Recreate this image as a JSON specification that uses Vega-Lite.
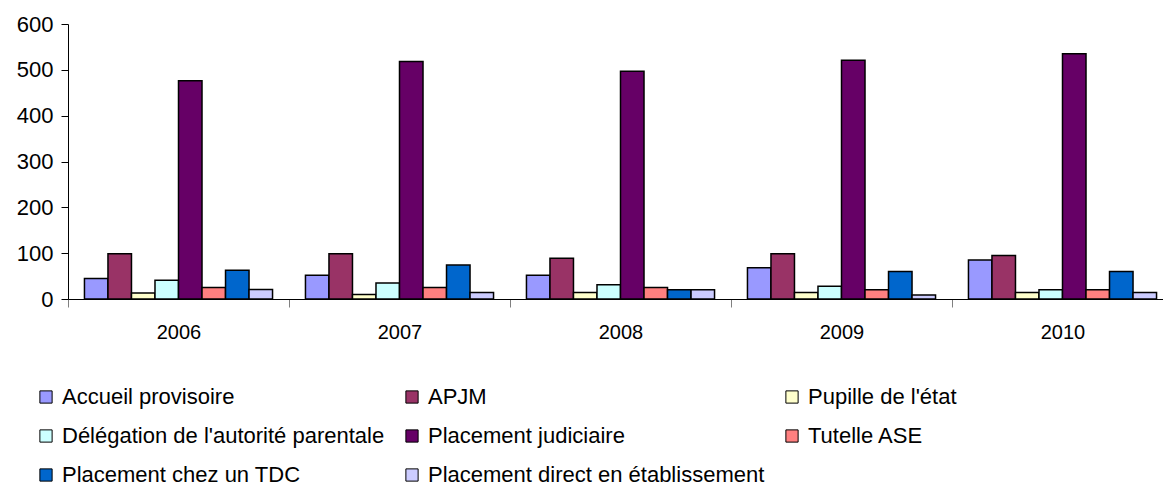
{
  "$schema": "https://vega.github.io/schema/vega-lite/v6.json",
  "autosize": "none",
  "width": 1095,
  "height": 275,
  "padding": {"left": 68, "top": 24, "right": 0, "bottom": 187},
  "background": "white",
  "config": {
    "view": {"stroke": null},
    "font": "Liberation Sans"
  },
  "data": {
    "values": [
      {"year": "2006", "serie": "Accueil provisoire", "value": 45},
      {"year": "2006", "serie": "APJM", "value": 99},
      {"year": "2006", "serie": "Pupille de l'état", "value": 13},
      {"year": "2006", "serie": "Délégation de l'autorité parentale", "value": 41},
      {"year": "2006", "serie": "Placement judiciaire", "value": 476},
      {"year": "2006", "serie": "Tutelle ASE", "value": 25},
      {"year": "2006", "serie": "Placement chez un TDC", "value": 63},
      {"year": "2006", "serie": "Placement direct en établissement", "value": 21},
      {"year": "2007", "serie": "Accueil provisoire", "value": 52},
      {"year": "2007", "serie": "APJM", "value": 99},
      {"year": "2007", "serie": "Pupille de l'état", "value": 10},
      {"year": "2007", "serie": "Délégation de l'autorité parentale", "value": 35},
      {"year": "2007", "serie": "Placement judiciaire", "value": 518},
      {"year": "2007", "serie": "Tutelle ASE", "value": 25},
      {"year": "2007", "serie": "Placement chez un TDC", "value": 74},
      {"year": "2007", "serie": "Placement direct en établissement", "value": 14},
      {"year": "2008", "serie": "Accueil provisoire", "value": 52},
      {"year": "2008", "serie": "APJM", "value": 89},
      {"year": "2008", "serie": "Pupille de l'état", "value": 14},
      {"year": "2008", "serie": "Délégation de l'autorité parentale", "value": 31},
      {"year": "2008", "serie": "Placement judiciaire", "value": 497},
      {"year": "2008", "serie": "Tutelle ASE", "value": 25},
      {"year": "2008", "serie": "Placement chez un TDC", "value": 20},
      {"year": "2008", "serie": "Placement direct en établissement", "value": 20},
      {"year": "2009", "serie": "Accueil provisoire", "value": 68},
      {"year": "2009", "serie": "APJM", "value": 99},
      {"year": "2009", "serie": "Pupille de l'état", "value": 14},
      {"year": "2009", "serie": "Délégation de l'autorité parentale", "value": 28},
      {"year": "2009", "serie": "Placement judiciaire", "value": 521},
      {"year": "2009", "serie": "Tutelle ASE", "value": 20},
      {"year": "2009", "serie": "Placement chez un TDC", "value": 60},
      {"year": "2009", "serie": "Placement direct en établissement", "value": 9},
      {"year": "2010", "serie": "Accueil provisoire", "value": 85},
      {"year": "2010", "serie": "APJM", "value": 95},
      {"year": "2010", "serie": "Pupille de l'état", "value": 14},
      {"year": "2010", "serie": "Délégation de l'autorité parentale", "value": 20},
      {"year": "2010", "serie": "Placement judiciaire", "value": 535},
      {"year": "2010", "serie": "Tutelle ASE", "value": 20},
      {"year": "2010", "serie": "Placement chez un TDC", "value": 60},
      {"year": "2010", "serie": "Placement direct en établissement", "value": 14}
    ]
  },
  "mark": {"type": "bar", "stroke": "black", "strokeWidth": 1.5, "clip": false},
  "encoding": {
    "x": {
      "field": "year",
      "type": "nominal",
      "scale": {"paddingInner": 0, "paddingOuter": 0, "range": [0, 1105]},
      "axis": {
        "title": null,
        "labelAngle": 0,
        "tickBand": "extent",
        "tickSize": 8,
        "tickColor": "#808080",
        "domainColor": "black",
        "labelFontSize": 20,
        "labelColor": "black",
        "labelPadding": 15
      }
    },
    "xOffset": {
      "field": "serie",
      "type": "nominal",
      "sort": ["Accueil provisoire", "APJM", "Pupille de l'état", "Délégation de l'autorité parentale", "Placement judiciaire", "Tutelle ASE", "Placement chez un TDC", "Placement direct en établissement"],
      "scale": {"paddingInner": 0, "paddingOuter": 0.7}
    },
    "y": {
      "field": "value",
      "type": "quantitative",
      "scale": {"domain": [0, 600]},
      "axis": {
        "title": null,
        "grid": false,
        "values": [0, 100, 200, 300, 400, 500, 600],
        "tickSize": 7,
        "tickColor": "black",
        "domainColor": "black",
        "labelFontSize": 22,
        "labelColor": "black",
        "labelPadding": 8
      }
    },
    "color": {
      "field": "serie",
      "type": "nominal",
      "sort": ["Accueil provisoire", "APJM", "Pupille de l'état", "Délégation de l'autorité parentale", "Placement judiciaire", "Tutelle ASE", "Placement chez un TDC", "Placement direct en établissement"],
      "scale": {
        "domain": ["Accueil provisoire", "APJM", "Pupille de l'état", "Délégation de l'autorité parentale", "Placement judiciaire", "Tutelle ASE", "Placement chez un TDC", "Placement direct en établissement"],
        "range": ["#9999FF", "#993366", "#FFFFCC", "#CCFFFF", "#660066", "#FF8080", "#0066CC", "#CCCCFF"]
      },
      "legend": {
        "title": null,
        "orient": "none",
        "direction": "horizontal",
        "legendX": -33,
        "legendY": 362,
        "columns": 3,
        "columnPadding": 16,
        "rowPadding": 17,
        "symbolType": "square",
        "symbolSize": 150,
        "symbolStrokeColor": "black",
        "symbolStrokeWidth": 1,
        "labelFontSize": 22,
        "labelColor": "black",
        "labelOffset": 5,
        "labelLimit": 400,
        "padding": 0
      }
    }
  }
}
